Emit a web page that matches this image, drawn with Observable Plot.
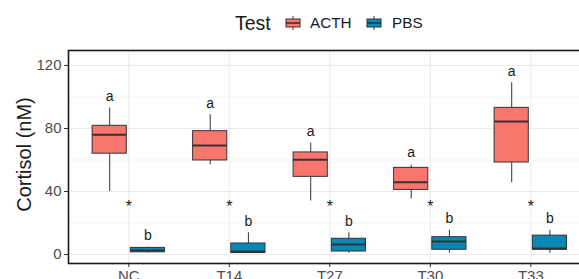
<!DOCTYPE html>
<html>
<head>
<meta charset="utf-8">
<script src="https://cdn.jsdelivr.net/npm/d3@7"></script>
<script src="https://cdn.jsdelivr.net/npm/@observablehq/plot@0.6"></script>
<style>
  html, body { margin: 0; padding: 0; width: 579px; height: 279px; overflow: hidden; background: #fff; }
  body { font-family: "Liberation Sans", Arial, sans-serif; position: relative; }
  #legend { position: absolute; top: 11px; left: 0; width: 579px; height: 24px; }
  #legend > * { position: absolute; top: 0; height: 24px; display: flex; align-items: center; color: #1a1a1a; }
  #chart { position: absolute; top: 40px; left: 0; width: 600px; }
</style>
</head>
<body>
<div id="legend"></div>
<div id="chart"></div>
<script>
const categories = ["NC", "T14", "T27", "T30", "T33"];
const groups = ["ACTH", "PBS"];
const groupColors = ["#F8766D", "#0A88B5"];

// Box summaries (nM)
const acthMin = [40, 57, 34, 35.3, 45.5];
const acthQ1  = [64, 59.7, 49.3, 41, 58.4];
const acthMed = [76, 69.2, 60.1, 45.9, 84.4];
const acthQ3  = [81.7, 78.3, 64.8, 55, 93.1];
const acthMax = [93, 88.7, 70.7, 56.7, 109];

const pbsMin = [1.0, 0.7, 0.8, 0.8, 0.8];
const pbsQ1  = [1.4, 0.9, 1.9, 3.0, 3.0];
const pbsMed = [2.6, 1.9, 6.3, 8.3, 3.8];
const pbsQ3  = [4.2, 7.0, 10.0, 11.0, 12.0];
const pbsMax = [4.6, 13.8, 13.8, 15.4, 15.4];

// Significance letters and stars
const acthLetters = ["a", "a", "a", "a", "a"];
const acthLetterY = [100, 96, 78, 64.6, 116];
const pbsLetters  = ["b", "b", "b", "b", "b"];
const pbsLetterY  = [12, 21, 21, 23, 23];
const starLabels  = ["*", "*", "*", "*", "*"];
const starY       = [30.5, 30.5, 30.5, 30.5, 30.5];

const yMajor = [0, 40, 80, 120];
const yMinor = [20, 60, 100];

const dodge = 0.19, halfW = 0.17;
const rows = [];
categories.forEach((c, i) => {
  rows.push({i, group: "ACTH", xc: i - dodge, min: acthMin[i], q1: acthQ1[i], med: acthMed[i], q3: acthQ3[i], max: acthMax[i], label: acthLetters[i], ly: acthLetterY[i]});
  rows.push({i, group: "PBS", xc: i + dodge, min: pbsMin[i], q1: pbsQ1[i], med: pbsMed[i], q3: pbsQ3[i], max: pbsMax[i], label: pbsLetters[i], ly: pbsLetterY[i]});
});
const stars = categories.map((c, i) => ({i, label: starLabels[i], y: starY[i]}));

const stroke = "#333333";
const plot = Plot.plot({
  width: 600,
  height: 250,
  marginTop: 10,
  marginBottom: 27,
  marginLeft: 68,
  marginRight: 9.4,
  style: {fontFamily: "'Liberation Sans', Arial, sans-serif", background: "transparent", maxWidth: "none"},
  x: {type: "linear", domain: [-0.6, 4.6], label: null},
  y: {domain: [-5.7, 129.5], label: null},
  color: {domain: groups, range: groupColors},
  marks: [
    Plot.ruleY(yMinor, {stroke: "#EBEBEB", strokeWidth: 0.6}),
    Plot.ruleY(yMajor, {stroke: "#EBEBEB", strokeWidth: 1.1}),
    Plot.ruleX(d3.range(categories.length), {stroke: "#EBEBEB", strokeWidth: 1.1}),
    Plot.ruleX(rows, {x: "xc", y1: "min", y2: "max", stroke, strokeWidth: 1}),
    Plot.rectY(rows, {x1: d => d.xc - halfW, x2: d => d.xc + halfW, y1: "q1", y2: "q3", fill: "group", stroke, strokeWidth: 1}),
    Plot.ruleY(rows, {x1: d => d.xc - halfW, x2: d => d.xc + halfW, y: "med", stroke, strokeWidth: 2}),
    Plot.text(rows, {x: "xc", y: "ly", text: "label", fontSize: 14, fill: "#1a1a1a"}),
    Plot.text(stars, {x: "i", y: "y", text: "label", fontSize: 16, fill: "#1a1a1a"}),
    Plot.axisY({ticks: yMajor, tickSize: 4, tickPadding: 3, fontSize: 15, color: "#4D4D4D", stroke: "#333", label: null}),
    Plot.axisX({ticks: d3.range(categories.length), tickFormat: i => categories[i], tickSize: 4, tickPadding: 3, fontSize: 15, color: "#4D4D4D", stroke: "#333", label: null}),
    Plot.frame({stroke: "#1a1a1a", strokeWidth: 1.6})
  ]
});
plot.style.maxWidth = "none";
plot.setAttribute("width", 600);
plot.style.width = "600px";
plot.style.height = "250px";
plot.querySelectorAll("[aria-label='y-axis tick label'] text, [aria-label='x-axis tick label'] text").forEach(t => t.setAttribute("fill", "#4D4D4D"));
document.getElementById("chart").appendChild(plot);

// Y-axis title (rotated)
const svg = d3.select(plot);
svg.append("text")
  .attr("transform", `translate(31, ${(10 + 223) / 2 - 2}) rotate(-90)`)
  .attr("text-anchor", "middle")
  .attr("font-size", 20)
  .attr("fill", "#1a1a1a")
  .attr("font-family", "'Liberation Sans', Arial, sans-serif")
  .text("Cortisol (nM)");

// Legend (HTML above the SVG)
const legend = document.getElementById("legend");
function addEl(html, left) {
  const el = document.createElement("div");
  el.style.left = left + "px";
  el.innerHTML = html;
  legend.appendChild(el);
}
function keySvg(color) {
  return `<svg width="16" height="16" viewBox="0 0 16 16"><line x1="8" x2="8" y1="1" y2="15" stroke="#333" stroke-width="1"/><rect x="1" y="4" width="14" height="8" fill="${color}" stroke="#333" stroke-width="1"/><line x1="1" x2="15" y1="8" y2="8" stroke="#333" stroke-width="1.6"/></svg>`;
}
addEl(`<span style="font-size:19.5px">Test</span>`, 235);
addEl(keySvg(groupColors[0]), 285);
addEl(`<span style="font-size:15.3px">${groups[0]}</span>`, 310);
addEl(keySvg(groupColors[1]), 366);
addEl(`<span style="font-size:15.3px">${groups[1]}</span>`, 392);
</script>
</body>
</html>
